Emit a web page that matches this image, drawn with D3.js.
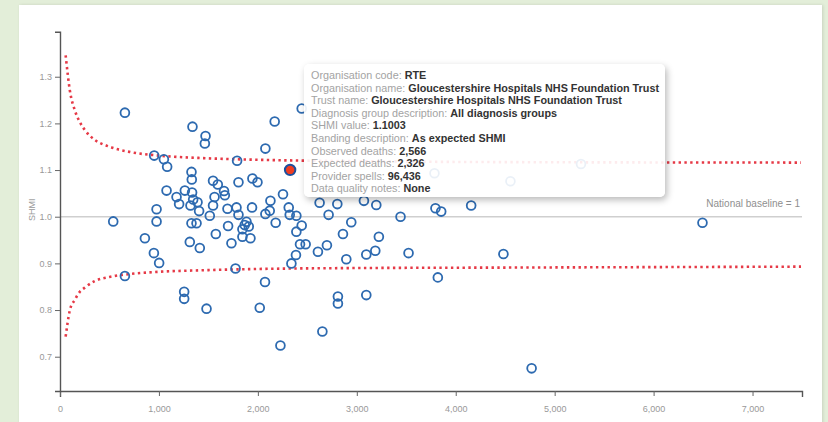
<!DOCTYPE html>
<html>
<head>
<meta charset="utf-8">
<script src="https://cdn.jsdelivr.net/npm/d3@7"></script>
<style>
  html, body { margin: 0; padding: 0; }
  body { width: 828px; height: 422px; background: #e3eed9; overflow: hidden; position: relative; font-family: Arial, "Liberation Sans", sans-serif; }
  #panel { position: absolute; left: 19px; top: 5px; width: 803px; height: 430px; background: #fff; box-shadow: 1px 0 3px rgba(0,0,0,0.12); }
  svg { position: absolute; left: 0; top: 0; }
  #tip { position: absolute; left: 304px; top: 64px; width: 344px; height: 122px; padding: 5px 10px 6px 7px;
         background: rgba(255,255,255,0.9); border-radius: 5px; box-shadow: 2px 3px 7px rgba(0,0,0,0.28);
         font-size: 10.8px; line-height: 12.6px; color: #a3a3a3; white-space: nowrap; }
  #tip b { color: #333; }
</style>
</head>
<body>
<div id="panel"></div>
<div id="chart"></div>
<div id="tip"></div>
<script>
// ---- data ----
const expectedDeaths = [656,1339,1471,1464,2170,2076,952,1050,1083,1790,
  1329,1332,1547,1595,1804,1945,1996,1077,1262,1335,1658,1666,1562,1178,1346,1390,1204,1319,1547,2127,2254,
  976,1406,1693,1784,1941,2120,2076,2312,2322,2389,1514,1804,538,976,1329,1380,1885,1867,1908,2180,1699,2443,
  1844,1575,1844,1925,2389,858,1312,1733,1413,2426,2483,2443,949,1002,2385,2339,656,1774,2072,1255,1255,1481,
  2019,2228,2624,2803,3072,3197,2715,2944,3442,3795,3853,4156,2860,3223,2698,2607,3096,3187,3523,2894,3819,
  2809,2809,3096,2652,4482,4767,6494,3785,4553,5266];
const shmiValues = [1.223,1.193,1.173,1.157,1.204,1.146,1.131,1.123,1.107,1.120,
  1.096,1.080,1.077,1.069,1.074,1.082,1.074,1.056,1.056,1.052,1.055,1.046,1.042,1.042,1.037,1.031,1.027,1.024,1.024,1.034,1.048,
  1.016,1.012,1.017,1.020,1.020,1.013,1.006,1.020,1.004,1.002,1.002,1.004,0.990,0.990,0.986,0.986,0.989,0.982,0.979,0.987,0.980,0.981,
  0.973,0.963,0.957,0.954,0.968,0.954,0.946,0.943,0.933,0.941,0.941,1.232,0.922,0.901,0.918,0.900,0.873,0.889,0.860,0.839,0.824,0.803,
  0.805,0.724,1.030,1.027,1.034,1.025,1.004,0.988,1.000,1.018,1.011,1.024,0.963,0.957,0.939,0.925,0.919,0.927,0.922,0.909,0.870,
  0.829,0.814,0.832,0.754,0.920,0.675,0.987,1.093,1.076,1.113];

// highlighted trust (RTE)
const highlightExpected = 2326;
const highlightShmi = 1.1003;

// control limits
const limitExpected = [57,100,150,200,250,350,500,700,1000,1400,2000,3000,4500,7490];
const upperLimit = [1.346,1.270,1.228,1.203,1.186,1.165,1.150,1.139,1.131,1.126,1.122,1.119,1.117,1.116];
const lowerLimit = [0.743,0.800,0.822,0.839,0.848,0.862,0.871,0.877,0.882,0.885,0.888,0.890,0.891,0.893];

const xTicks = [0,1000,2000,3000,4000,5000,6000,7000];
const yTicks = [0.7,0.8,0.9,1.0,1.1,1.2,1.3];
const baselineValue = 1;
const baselineLabel = "National baseline = 1";
const yAxisTitle = "SHMI";

const tipLabels = ["Organisation code:","Organisation name:","Trust name:","Diagnosis group description:",
  "SHMI value:","Banding description:","Observed deaths:","Expected deaths:","Provider spells:","Data quality notes:"];
const tipValues = ["RTE","Gloucestershire Hospitals NHS Foundation Trust","Gloucestershire Hospitals NHS Foundation Trust",
  "All diagnosis groups","1.1003","As expected SHMI","2,566","2,326","96,436","None"];

// ---- drawing ----
const W = 828, H = 422;
const svg = d3.select("#chart").append("svg").attr("width", W).attr("height", H);

const x = d3.scaleLinear().domain([0, 7500]).range([60, 802]);
const y = d3.scaleLinear().domain([0.6265, 1.3965]).range([391, 31.7]);

// baseline
svg.append("line")
  .attr("x1", x(0)).attr("x2", x(7500))
  .attr("y1", y(baselineValue)).attr("y2", y(baselineValue))
  .attr("stroke", "#cfcfcf").attr("stroke-width", 1.6);
svg.append("text")
  .attr("x", 800).attr("y", y(baselineValue) - 10)
  .attr("text-anchor", "end").attr("font-size", 10).attr("fill", "#8f8f8f")
  .text(baselineLabel);

// axes
const xAxis = svg.append("g").attr("transform", `translate(0,${y.range()[0]})`)
  .call(d3.axisBottom(x).tickValues(xTicks).tickFormat(d3.format(",")).tickSize(5).tickSizeOuter(6));
const yAxis = svg.append("g").attr("transform", `translate(${x.range()[0]},0)`)
  .call(d3.axisLeft(y).tickValues(yTicks).tickFormat(d3.format(".1f")).tickSize(5).tickSizeOuter(5));
[xAxis, yAxis].forEach(g => {
  g.select(".domain").attr("stroke", "#555").attr("stroke-width", 1.4);
  g.selectAll(".tick line").attr("stroke", "#666");
  g.selectAll(".tick text").attr("fill", "#999").attr("font-size", 9).attr("font-family", "Arial, 'Liberation Sans', sans-serif");
});
xAxis.selectAll(".tick text").attr("dy", "1.4em");

svg.append("text")
  .attr("transform", `translate(35,${y(1.015)}) rotate(-90)`)
  .attr("text-anchor", "middle").attr("font-size", 9).attr("fill", "#999")
  .text(yAxisTitle);

// control limits
const lim = limitExpected.map((e, i) => ({e, u: upperLimit[i], l: lowerLimit[i]}));
const lineU = d3.line().x(d => x(d.e)).y(d => y(d.u)).curve(d3.curveMonotoneX);
const lineL = d3.line().x(d => x(d.e)).y(d => y(d.l)).curve(d3.curveMonotoneX);
[lineU, lineL].forEach(fn => {
  svg.append("path").datum(lim).attr("d", fn)
    .attr("fill", "none").attr("stroke", "#e63946").attr("stroke-width", 2.6)
    .attr("stroke-dasharray", "2.4,3.4");
});

// points
const pts = expectedDeaths.map((e, i) => ({e, s: shmiValues[i]}));
svg.append("g").selectAll("circle").data(pts).join("circle")
  .attr("cx", d => x(d.e)).attr("cy", d => y(d.s)).attr("r", 4.4)
  .attr("fill", "none").attr("stroke", "#2d6ab0").attr("stroke-width", 1.8);

svg.append("circle")
  .attr("cx", x(highlightExpected)).attr("cy", y(highlightShmi)).attr("r", 5.2)
  .attr("fill", "#ee3d22").attr("stroke", "#1e4f9c").attr("stroke-width", 2);

// tooltip
d3.select("#tip").selectAll("div").data(tipLabels).join("div")
  .html((d, i) => `${d} <b>${tipValues[i]}</b>`);
</script>
</body>
</html>
